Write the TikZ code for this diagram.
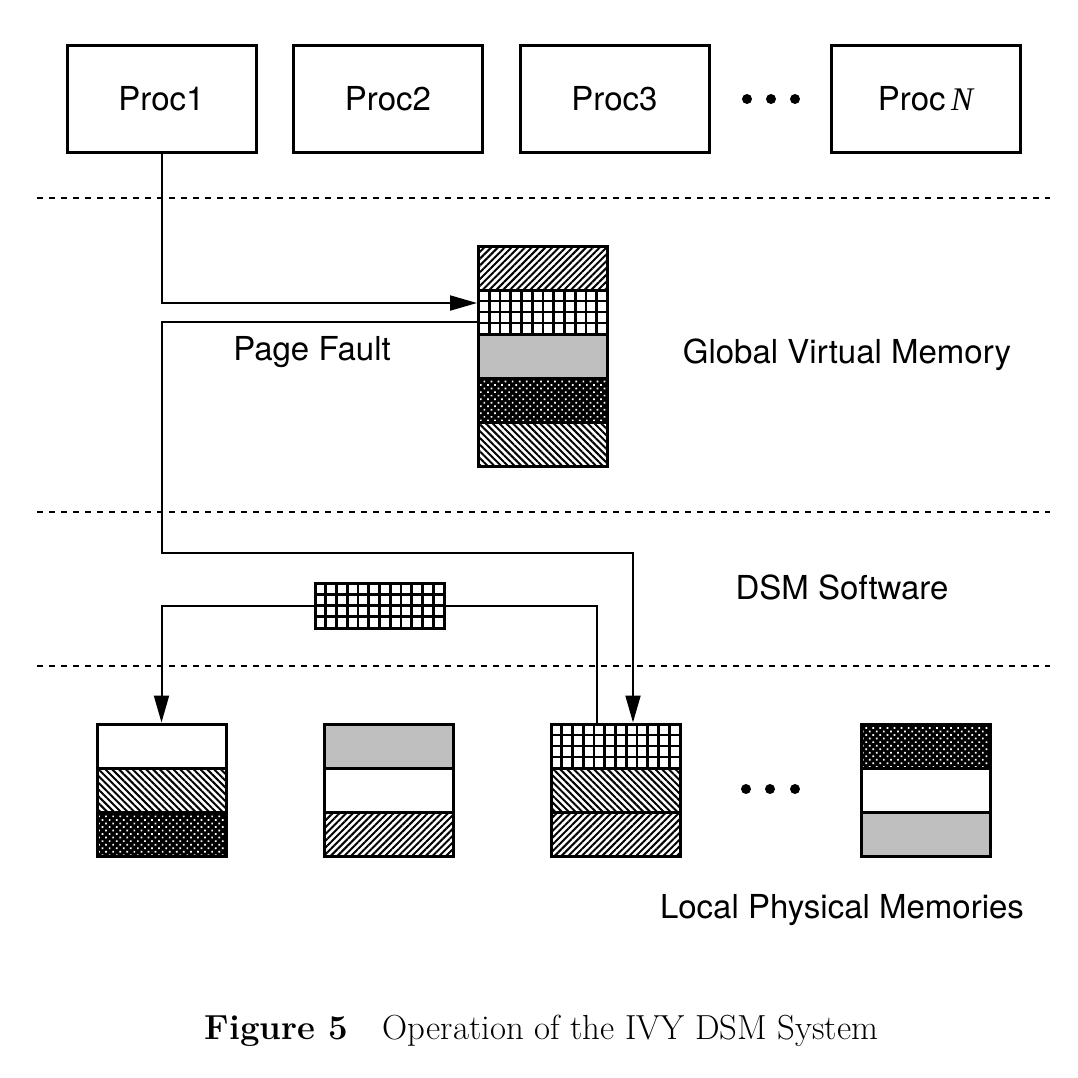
\documentclass[tikz,border=0pt]{standalone}
\usepackage{fontspec}
\newfontfamily\hel{TeX Gyre Heros}
\newfontfamily\tim{Liberation Serif}
\usetikzlibrary{patterns.meta,arrows.meta,calc}
\definecolor{midgray}{RGB}{191,191,191}
\begin{document}
\begin{tikzpicture}[x=0.5pt,y=-0.5pt,
  lbl/.style={font=\hel\fontsize{16.5}{20}\selectfont, inner sep=0pt},
  procbox/.style={draw, line width=1.5pt, minimum width=94.5pt, minimum height=53.5pt, inner sep=0pt, font=\hel\fontsize{16.5}{20}\selectfont},
  row/.style={draw, line width=1.5pt, minimum width=64.5pt, minimum height=22pt, inner sep=0pt},
  hne/.style={pattern={Lines[angle=45,distance=2.4pt,line width=1pt]}},
  hnw/.style={pattern={Lines[angle=-45,distance=2.4pt,line width=1pt]}},
  gridfill/.style={path picture={
    \foreach \i in {1,...,11}
      \draw[line width=1.3pt] ($(path picture bounding box.south west)!\i/12!(path picture bounding box.south east)$) -- ($(path picture bounding box.north west)!\i/12!(path picture bounding box.north east)$);
    \foreach \j in {1,2,3}
      \draw[line width=1.3pt] ($(path picture bounding box.south west)!\j/4!(path picture bounding box.north west)$) -- ($(path picture bounding box.south east)!\j/4!(path picture bounding box.north east)$);
  }},
  darkfill/.style={preaction={fill=black}, pattern={Dots[distance=2.5pt,radius=0.6pt,angle=45]}, pattern color=white},
  grayfill/.style={fill=midgray},
  sep/.style={line width=1.4pt, dash pattern=on 3pt off 3pt},
  conn/.style={line width=1pt},
  arr/.style={line width=1pt, -{Triangle[length=13.5pt,width=7.5pt]}},
  dotn/.style={circle, fill=black, minimum size=5pt, inner sep=0pt}
]
\useasboundingbox (0,0) rectangle (1078,1078);

% processors
\node[procbox] (p1) at (161.5,98.5) {Proc1};
\node[procbox] (p2) at (388,98.5) {Proc2};
\node[procbox] (p3) at (614.5,98.5) {Proc3};
\node[procbox] (pn) at (925.5,98.5) {Proc\,{\tim\itshape N}};
\node[dotn] (td1) at (747,99) {};
\node[dotn] (td2) at (771,99) {};
\node[dotn] (td3) at (795,99) {};

% separators
\draw[sep] (37,198) -- (1050,198);
\draw[sep] (37,512) -- (1050,512);
\draw[sep] (37,666) -- (1050,666);

% global virtual memory
\node[row,hne] (g1) at (543,268) {};
\node[row,gridfill] (g2) at (543,312) {};
\node[row,grayfill] (g3) at (543,356) {};
\node[row,darkfill] (g4) at (543,400) {};
\node[row,hnw] (g5) at (543,444) {};

% local memories
\node[row] (m1a) at (161.5,746) {};
\node[row,hnw] (m1b) at (161.5,790) {};
\node[row,darkfill] (m1c) at (161.5,834) {};

\node[row,grayfill] (m2a) at (388.5,746) {};
\node[row] (m2b) at (388.5,790) {};
\node[row,hne] (m2c) at (388.5,834) {};

\node[row,gridfill] (m3a) at (615.5,746) {};
\node[row,hnw] (m3b) at (615.5,790) {};
\node[row,hne] (m3c) at (615.5,834) {};

\node[row,darkfill] (m4a) at (925.5,746) {};
\node[row] (m4b) at (925.5,790) {};
\node[row,grayfill] (m4c) at (925.5,834) {};

\node[dotn] (bd1) at (746,789) {};
\node[dotn] (bd2) at (770,789) {};
\node[dotn] (bd3) at (795,789) {};

% page in transit
\node[row,gridfill,minimum height=22.5pt] (pk) at (379.5,605.5) {};

% connectors
\coordinate (c1) at (161.5,553);
\draw[arr] (p1.south) |- ([yshift=4.5pt]g2.west);
\draw[arr] ([yshift=-5pt]g2.west) -| (c1) -| ([xshift=8.75pt]m3a.north);
\draw[conn] ([xshift=-9.25pt]m3a.north) |- (pk.east);
\draw[arr] (pk.west) -| (m1a.north);

% labels
\node[lbl] (pf) at (312,352) {Page Fault};
\node[lbl] (gvm) at (847,355) {Global Virtual Memory};
\node[lbl] (dsm) at (842,587) {DSM Software};
\node[lbl] (lpm) at (842,910) {Local Physical Memories};

\node[font=\fontsize{17.4}{20}\selectfont, inner sep=0pt, anchor=base] (cap) at (541.5,1039) {\textbf{Figure 5}\quad Operation of the IVY DSM System};
\end{tikzpicture}
\end{document}
